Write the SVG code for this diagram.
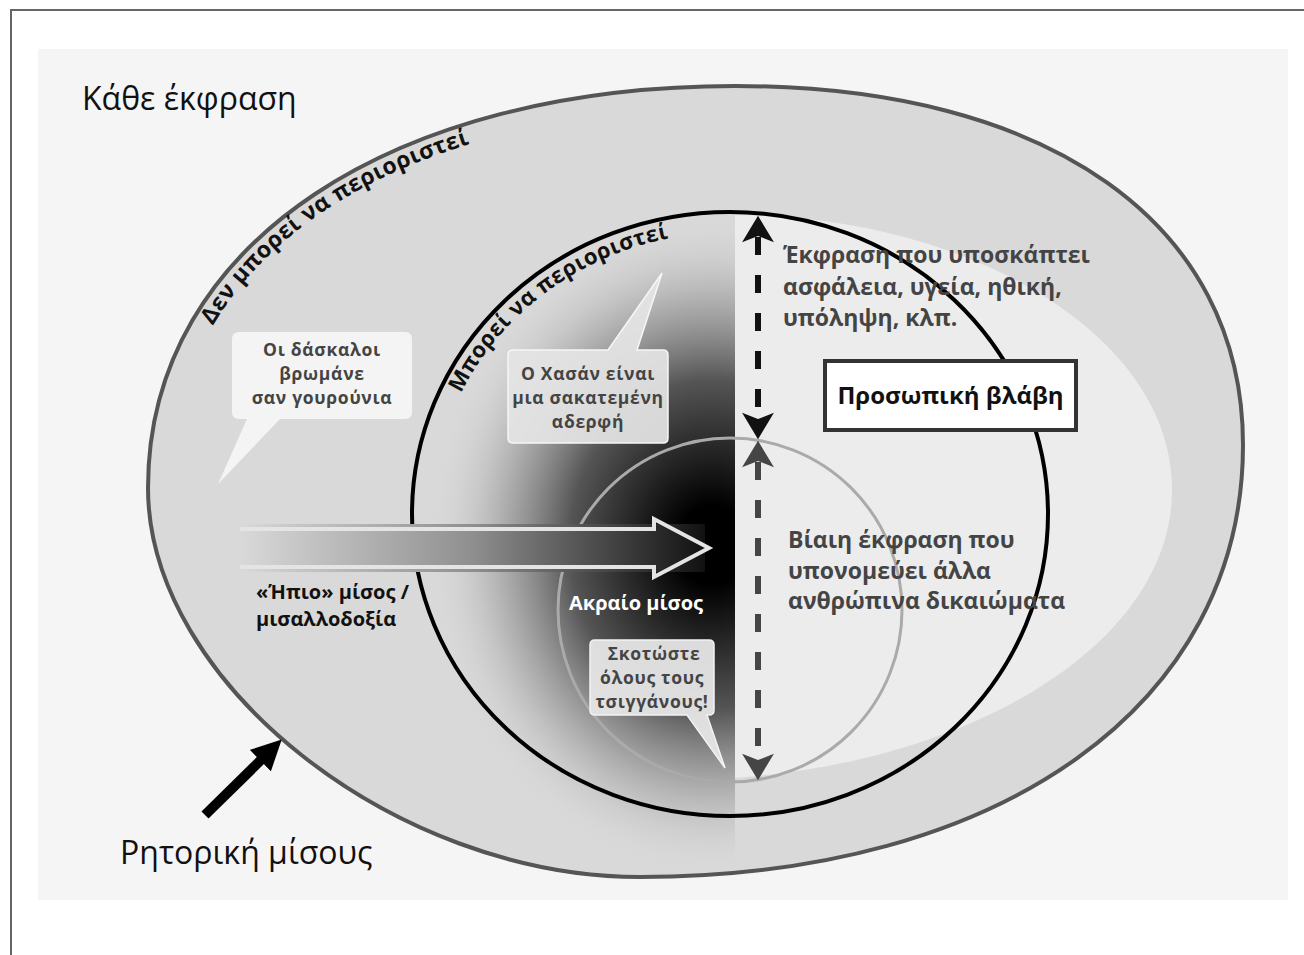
<svg xmlns="http://www.w3.org/2000/svg" width="1304" height="955" viewBox="0 0 1304 955">
<style>
  text { font-family: 'Open Sans', 'Noto Sans', 'DejaVu Sans', sans-serif; }
  .big { font-size: 32px; fill: #111; }
  .b { font-weight: bold; }
  .curve { font-weight: bold; fill: #111; }
  .bub { font-size: 17.5px; font-weight: bold; fill: #444; text-anchor: middle; letter-spacing: 0.7px; }
  .side { font-size: 23px; font-weight: bold; fill: #444; }
  .lbl { font-size: 20px; font-weight: bold; }
</style>
<defs>
  <radialGradient id="dark" gradientUnits="userSpaceOnUse" cx="712" cy="545" r="300" gradientTransform="translate(712 545) scale(0.95 1.1) translate(-712 -545)">
    <stop offset="0" stop-color="#000"/>
    <stop offset="0.12" stop-color="#000"/>
    <stop offset="0.5" stop-color="#555"/>
    <stop offset="0.8" stop-color="#b5b5b5" stop-opacity="0.7"/>
    <stop offset="1" stop-color="#d9d9d9" stop-opacity="0"/>
  </radialGradient>
  <linearGradient id="band" gradientUnits="userSpaceOnUse" x1="240" y1="0" x2="705" y2="0">
    <stop offset="0" stop-color="#d9d9d9"/>
    <stop offset="0.5" stop-color="#8f8f8f"/>
    <stop offset="1" stop-color="#111"/>
  </linearGradient>
  <clipPath id="leftHalf"><rect x="380" y="205" width="355" height="660"/></clipPath>
  <marker id="ahDark" markerUnits="userSpaceOnUse" markerWidth="30" markerHeight="34" viewBox="0 -16 26 32" refX="5" refY="0" orient="auto-start-reverse">
    <path d="M0,-15 L25,0 L0,15 L6,0 Z" fill="#111"/>
  </marker>
  <marker id="ahGray" markerUnits="userSpaceOnUse" markerWidth="30" markerHeight="34" viewBox="0 -16 26 32" refX="5" refY="0" orient="auto-start-reverse">
    <path d="M0,-15 L25,0 L0,15 L6,0 Z" fill="#454545"/>
  </marker>
  <marker id="ahBlack" markerUnits="userSpaceOnUse" markerWidth="30" markerHeight="30" viewBox="0 -13 26 26" refX="2" refY="0" orient="auto">
    <path d="M0,-13 L26,0 L0,13 Z" fill="#000"/>
  </marker>
  <path id="outerBase" d="M211.9,327.4 C293.4,186.75 487.5,108 735,108 C1040,108 1221,230 1221,445"/>
  <path id="innerBase" d="M460,395 A298 282 0 0 1 1028,514"/>
</defs>

<g id="frame">
  <rect x="11" y="10" width="1310" height="960" fill="#fff" stroke="#666" stroke-width="2"/>
  <rect x="38" y="49" width="1250" height="851" fill="#f5f5f5"/>
  <text class="big" x="82" y="110">Κάθε έκφραση</text>
</g>

<g id="outer-ring">
  <path d="M148,488 C148,240 398,86 735,86 C1050,86 1243,224 1243,445 C1243,704 1002,877 640,877 C394,877 148,682 148,488 Z" fill="#d9d9d9"/>
  <path id="light-region" d="M735,215 C960,215 1172,330 1172,490 C1172,640 980,760 735,778 Z" fill="#ececec"/>
  <rect x="380" y="205" width="355" height="660" fill="url(#dark)" clip-path="url(#leftHalf)"/>
  <path d="M148,488 C148,240 398,86 735,86 C1050,86 1243,224 1243,445 C1243,704 1002,877 640,877 C394,877 148,682 148,488 Z" fill="none" stroke="#555" stroke-width="4"/>
  <text class="curve" font-size="23"><textPath href="#outerBase" startOffset="2" textLength="322" lengthAdjust="spacing">Δεν μπορεί να περιοριστεί</textPath></text>
</g>

<g id="inner-circle">
  <ellipse cx="730" cy="514" rx="318" ry="302" fill="none" stroke="#000" stroke-width="4"/>
  <text class="curve" font-size="22"><textPath href="#innerBase" startOffset="2" textLength="268" lengthAdjust="spacing">Μπορεί να περιοριστεί</textPath></text>
</g>

<g id="extreme-circle">
  <circle cx="730" cy="610" r="172" fill="none" stroke="#aaa" stroke-width="3"/>
</g>

<g id="connectors">
  <rect x="240" y="524" width="465" height="48" fill="url(#band)"/>
  <path d="M240,529 H654 V519 L709,548 L654,577 V567 H240" fill="none" stroke="#e4e4e4" stroke-width="4" stroke-linejoin="miter"/>
  <line x1="758" y1="237" x2="758" y2="418" stroke="#111" stroke-width="6" stroke-dasharray="18 20" marker-start="url(#ahDark)" marker-end="url(#ahDark)"/>
  <line x1="758" y1="462" x2="758" y2="759" stroke="#454545" stroke-width="6" stroke-dasharray="18 20" marker-start="url(#ahGray)" marker-end="url(#ahGray)"/>
  <line x1="205" y1="815" x2="262" y2="759" stroke="#000" stroke-width="10" marker-end="url(#ahBlack)"/>
</g>

<g id="mild-hate">
  <text class="lbl" x="256" y="599" fill="#111">«Ήπιο» μίσος /</text>
  <text class="lbl" x="256" y="626" fill="#111">μισαλλοδοξία</text>
</g>

<g id="extreme-hate">
  <text class="lbl" x="569" y="610" fill="#fff">Ακραίο μίσος</text>
</g>

<g id="bubble-teachers">
  <path d="M239,332 H405 Q412,332 412,339 V412 Q412,419 405,419 H280 L218,484 L247,419 H239 Q232,419 232,412 V339 Q232,332 239,332 Z" fill="#f4f4f4"/>
  <text class="bub" x="322" y="356">Οι δάσκαλοι</text>
  <text class="bub" x="322" y="380">βρωμάνε</text>
  <text class="bub" x="322" y="404">σαν γουρούνια</text>
</g>

<g id="bubble-hasan">
  <path d="M513,350 H608 L662,273 L637,350 H663 Q668,350 668,355 V438 Q668,443 663,443 H513 Q508,443 508,438 V355 Q508,350 513,350 Z" fill="#e4e4e4" fill-opacity="0.93" stroke="#f6f6f6" stroke-width="1.5"/>
  <text class="bub" x="588" y="380">Ο Χασάν είναι</text>
  <text class="bub" x="588" y="404">μια σακατεμένη</text>
  <text class="bub" x="588" y="428">αδερφή</text>
</g>

<g id="bubble-gypsies">
  <path d="M595,640 H709 Q714,640 714,645 V710 Q714,715 709,715 H707 L725,768 L687,715 H595 Q590,715 590,710 V645 Q590,640 595,640 Z" fill="#e6e6e6" fill-opacity="0.95" stroke="#f2f2f2" stroke-width="1.5"/>
  <text class="bub" x="654" y="660">Σκοτώστε</text>
  <text class="bub" x="652" y="684">όλους τους</text>
  <text class="bub" x="652" y="708">τσιγγάνους!</text>
</g>

<g id="undermining">
  <text class="side" x="783" y="263">Έκφραση που υποσκάπτει</text>
  <text class="side" x="783" y="295">ασφάλεια, υγεία, ηθική,</text>
  <text class="side" x="783" y="326">υπόληψη, κλπ.</text>
</g>

<g id="personal-harm">
  <rect x="825" y="361" width="251" height="69" fill="#fff" stroke="#333" stroke-width="4"/>
  <text class="b" x="950.5" y="404" font-size="24" text-anchor="middle" fill="#111">Προσωπική βλάβη</text>
</g>

<g id="violent">
  <text class="side" x="788" y="548">Βίαιη έκφραση που</text>
  <text class="side" x="788" y="579">υπονομεύει άλλα</text>
  <text class="side" x="788" y="609">ανθρώπινα δικαιώματα</text>
</g>

<g id="hate-speech">
  <text class="big" x="120" y="864">Ρητορική μίσους</text>
</g>
</svg>
